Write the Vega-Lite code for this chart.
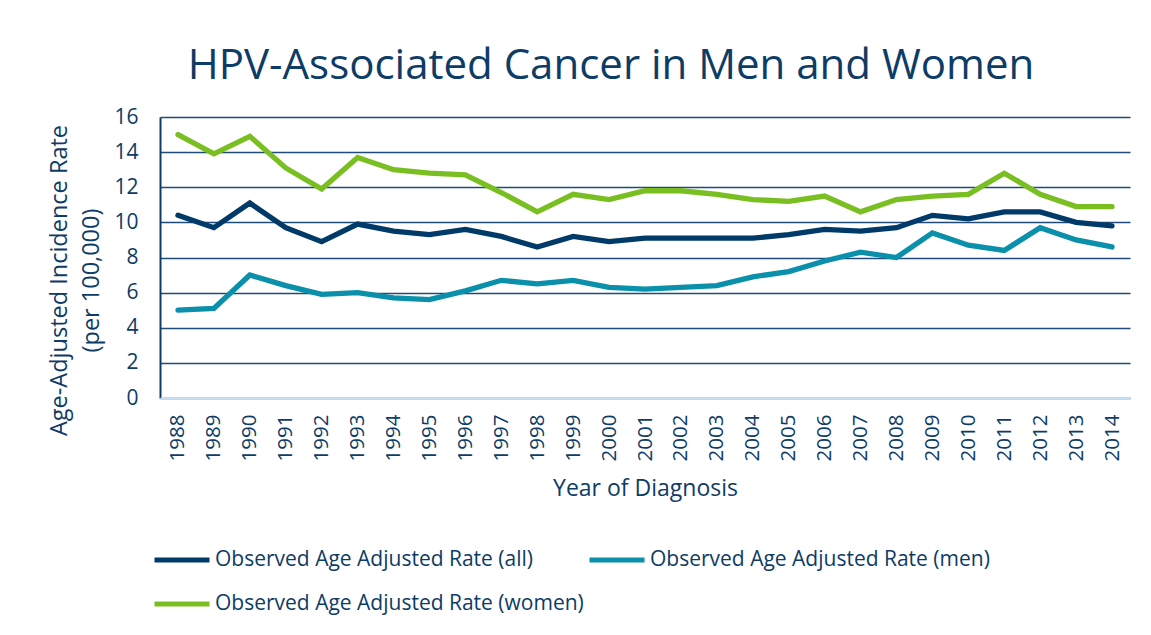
{
  "$schema": "https://vega.github.io/schema/vega-lite/v6.json",
  "width": 970,
  "height": 281,
  "autosize": {"type": "none"},
  "padding": {"left": 160, "top": 117, "right": 21, "bottom": 237},
  "background": "white",
  "title": {
    "text": "HPV-Associated Cancer in Men and Women",
    "anchor": "middle",
    "dx": -34,
    "offset": 18,
    "font": "Open Sans",
    "fontSize": 42,
    "fontWeight": "normal",
    "color": "#0d3c66"
  },
  "config": {
    "font": "Open Sans",
    "view": {"stroke": null},
    "axis": {"labelColor": "#0d3c66", "titleColor": "#0d3c66", "labelFont": "Open Sans", "titleFont": "Open Sans", "titleFontWeight": "normal"}
  },
  "data": {
    "values": [
      {"year": "1988", "series": "Observed Age Adjusted Rate (all)", "rate": 10.4},
      {"year": "1989", "series": "Observed Age Adjusted Rate (all)", "rate": 9.7},
      {"year": "1990", "series": "Observed Age Adjusted Rate (all)", "rate": 11.1},
      {"year": "1991", "series": "Observed Age Adjusted Rate (all)", "rate": 9.7},
      {"year": "1992", "series": "Observed Age Adjusted Rate (all)", "rate": 8.9},
      {"year": "1993", "series": "Observed Age Adjusted Rate (all)", "rate": 9.9},
      {"year": "1994", "series": "Observed Age Adjusted Rate (all)", "rate": 9.5},
      {"year": "1995", "series": "Observed Age Adjusted Rate (all)", "rate": 9.3},
      {"year": "1996", "series": "Observed Age Adjusted Rate (all)", "rate": 9.6},
      {"year": "1997", "series": "Observed Age Adjusted Rate (all)", "rate": 9.2},
      {"year": "1998", "series": "Observed Age Adjusted Rate (all)", "rate": 8.6},
      {"year": "1999", "series": "Observed Age Adjusted Rate (all)", "rate": 9.2},
      {"year": "2000", "series": "Observed Age Adjusted Rate (all)", "rate": 8.9},
      {"year": "2001", "series": "Observed Age Adjusted Rate (all)", "rate": 9.1},
      {"year": "2002", "series": "Observed Age Adjusted Rate (all)", "rate": 9.1},
      {"year": "2003", "series": "Observed Age Adjusted Rate (all)", "rate": 9.1},
      {"year": "2004", "series": "Observed Age Adjusted Rate (all)", "rate": 9.1},
      {"year": "2005", "series": "Observed Age Adjusted Rate (all)", "rate": 9.3},
      {"year": "2006", "series": "Observed Age Adjusted Rate (all)", "rate": 9.6},
      {"year": "2007", "series": "Observed Age Adjusted Rate (all)", "rate": 9.5},
      {"year": "2008", "series": "Observed Age Adjusted Rate (all)", "rate": 9.7},
      {"year": "2009", "series": "Observed Age Adjusted Rate (all)", "rate": 10.4},
      {"year": "2010", "series": "Observed Age Adjusted Rate (all)", "rate": 10.2},
      {"year": "2011", "series": "Observed Age Adjusted Rate (all)", "rate": 10.6},
      {"year": "2012", "series": "Observed Age Adjusted Rate (all)", "rate": 10.6},
      {"year": "2013", "series": "Observed Age Adjusted Rate (all)", "rate": 10.0},
      {"year": "2014", "series": "Observed Age Adjusted Rate (all)", "rate": 9.8},
      {"year": "1988", "series": "Observed Age Adjusted Rate (men)", "rate": 5.0},
      {"year": "1989", "series": "Observed Age Adjusted Rate (men)", "rate": 5.1},
      {"year": "1990", "series": "Observed Age Adjusted Rate (men)", "rate": 7.0},
      {"year": "1991", "series": "Observed Age Adjusted Rate (men)", "rate": 6.4},
      {"year": "1992", "series": "Observed Age Adjusted Rate (men)", "rate": 5.9},
      {"year": "1993", "series": "Observed Age Adjusted Rate (men)", "rate": 6.0},
      {"year": "1994", "series": "Observed Age Adjusted Rate (men)", "rate": 5.7},
      {"year": "1995", "series": "Observed Age Adjusted Rate (men)", "rate": 5.6},
      {"year": "1996", "series": "Observed Age Adjusted Rate (men)", "rate": 6.1},
      {"year": "1997", "series": "Observed Age Adjusted Rate (men)", "rate": 6.7},
      {"year": "1998", "series": "Observed Age Adjusted Rate (men)", "rate": 6.5},
      {"year": "1999", "series": "Observed Age Adjusted Rate (men)", "rate": 6.7},
      {"year": "2000", "series": "Observed Age Adjusted Rate (men)", "rate": 6.3},
      {"year": "2001", "series": "Observed Age Adjusted Rate (men)", "rate": 6.2},
      {"year": "2002", "series": "Observed Age Adjusted Rate (men)", "rate": 6.3},
      {"year": "2003", "series": "Observed Age Adjusted Rate (men)", "rate": 6.4},
      {"year": "2004", "series": "Observed Age Adjusted Rate (men)", "rate": 6.9},
      {"year": "2005", "series": "Observed Age Adjusted Rate (men)", "rate": 7.2},
      {"year": "2006", "series": "Observed Age Adjusted Rate (men)", "rate": 7.8},
      {"year": "2007", "series": "Observed Age Adjusted Rate (men)", "rate": 8.3},
      {"year": "2008", "series": "Observed Age Adjusted Rate (men)", "rate": 8.0},
      {"year": "2009", "series": "Observed Age Adjusted Rate (men)", "rate": 9.4},
      {"year": "2010", "series": "Observed Age Adjusted Rate (men)", "rate": 8.7},
      {"year": "2011", "series": "Observed Age Adjusted Rate (men)", "rate": 8.4},
      {"year": "2012", "series": "Observed Age Adjusted Rate (men)", "rate": 9.7},
      {"year": "2013", "series": "Observed Age Adjusted Rate (men)", "rate": 9.0},
      {"year": "2014", "series": "Observed Age Adjusted Rate (men)", "rate": 8.6},
      {"year": "1988", "series": "Observed Age Adjusted Rate (women)", "rate": 15.0},
      {"year": "1989", "series": "Observed Age Adjusted Rate (women)", "rate": 13.9},
      {"year": "1990", "series": "Observed Age Adjusted Rate (women)", "rate": 14.9},
      {"year": "1991", "series": "Observed Age Adjusted Rate (women)", "rate": 13.1},
      {"year": "1992", "series": "Observed Age Adjusted Rate (women)", "rate": 11.9},
      {"year": "1993", "series": "Observed Age Adjusted Rate (women)", "rate": 13.7},
      {"year": "1994", "series": "Observed Age Adjusted Rate (women)", "rate": 13.0},
      {"year": "1995", "series": "Observed Age Adjusted Rate (women)", "rate": 12.8},
      {"year": "1996", "series": "Observed Age Adjusted Rate (women)", "rate": 12.7},
      {"year": "1997", "series": "Observed Age Adjusted Rate (women)", "rate": 11.7},
      {"year": "1998", "series": "Observed Age Adjusted Rate (women)", "rate": 10.6},
      {"year": "1999", "series": "Observed Age Adjusted Rate (women)", "rate": 11.6},
      {"year": "2000", "series": "Observed Age Adjusted Rate (women)", "rate": 11.3},
      {"year": "2001", "series": "Observed Age Adjusted Rate (women)", "rate": 11.8},
      {"year": "2002", "series": "Observed Age Adjusted Rate (women)", "rate": 11.8},
      {"year": "2003", "series": "Observed Age Adjusted Rate (women)", "rate": 11.6},
      {"year": "2004", "series": "Observed Age Adjusted Rate (women)", "rate": 11.3},
      {"year": "2005", "series": "Observed Age Adjusted Rate (women)", "rate": 11.2},
      {"year": "2006", "series": "Observed Age Adjusted Rate (women)", "rate": 11.5},
      {"year": "2007", "series": "Observed Age Adjusted Rate (women)", "rate": 10.6},
      {"year": "2008", "series": "Observed Age Adjusted Rate (women)", "rate": 11.3},
      {"year": "2009", "series": "Observed Age Adjusted Rate (women)", "rate": 11.5},
      {"year": "2010", "series": "Observed Age Adjusted Rate (women)", "rate": 11.6},
      {"year": "2011", "series": "Observed Age Adjusted Rate (women)", "rate": 12.8},
      {"year": "2012", "series": "Observed Age Adjusted Rate (women)", "rate": 11.6},
      {"year": "2013", "series": "Observed Age Adjusted Rate (women)", "rate": 10.9},
      {"year": "2014", "series": "Observed Age Adjusted Rate (women)", "rate": 10.9}
    ]
  },
  "mark": {"type": "line", "strokeWidth": 5.3, "strokeCap": "round", "strokeJoin": "miter"},
  "encoding": {
    "x": {
      "field": "year",
      "type": "ordinal",
      "scale": {"type": "point", "padding": 0.5},
      "axis": {
        "title": "Year of Diagnosis",
        "titleFontSize": 23,
        "titlePadding": 17,
        "labelAngle": -90,
        "labelAlign": "right",
        "labelBaseline": "middle",
        "labelFontSize": 20.5,
        "labelPadding": 16,
        "ticks": false,
        "domainColor": "#c6dff3",
        "domainWidth": 2,
        "grid": false,
        "zindex": 1
      }
    },
    "y": {
      "field": "rate",
      "type": "quantitative",
      "scale": {"domain": [0, 16], "nice": false},
      "axis": {
        "title": ["Age-Adjusted Incidence Rate", "(per 100,000)"],
        "titleFontSize": 23.5,
        "titlePadding": 10,
        "titleLineHeight": 32,
        "titleY": 163,
        "values": [0, 2, 4, 6, 8, 10, 12, 14, 16],
        "labelFontSize": 21,
        "labelPadding": 22,
        "ticks": false,
        "domainColor": "#0d3c66",
        "domainWidth": 2,
        "grid": true,
        "gridColor": "#1f4b78",
        "gridWidth": 1.6,
        "gridOpacity": 1
      }
    },
    "color": {
      "field": "series",
      "type": "nominal",
      "scale": {
        "domain": ["Observed Age Adjusted Rate (all)", "Observed Age Adjusted Rate (men)", "Observed Age Adjusted Rate (women)"],
        "range": ["#003a68", "#0a90aa", "#7abf22"]
      },
      "legend": {
        "title": null,
        "orient": "none",
        "legendX": -8,
        "legendY": 413,
        "direction": "horizontal",
        "columns": 2,
        "symbolType": "stroke",
        "symbolSize": 3025,
        "symbolStrokeWidth": 5,
        "labelFontSize": 21,
        "labelColor": "#0d3c66",
        "labelLimit": 500,
        "labelOffset": 3,
        "columnPadding": -5,
        "rowPadding": 4
      }
    }
  }
}
